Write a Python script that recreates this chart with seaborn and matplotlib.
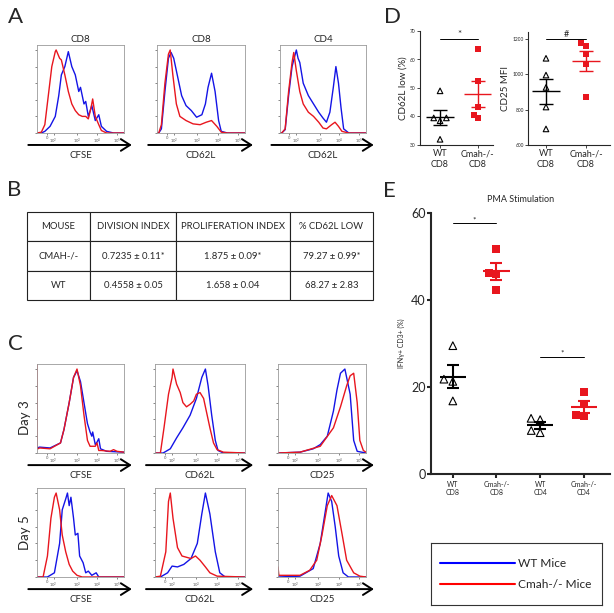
import numpy as np
import pandas as pd
import matplotlib
matplotlib.use("Agg")
import matplotlib.pyplot as plt
from matplotlib.lines import Line2D
import seaborn as sns

W, H = 614, 613
BLUE = "#1414e6"
RED = "#e8161e"

# flow axis ticks (fraction of axis width)
flow_ticks = [0.11, 0.19, 0.46, 0.69, 0.92]
flow_tick_labels = ["0", "$10^2$", "$10^3$", "$10^4$", "$10^5$"]

# ---- panel A histograms (x = fraction of axis, y = fraction of mode)
a1_wt_x = [0.0, 0.05, 0.09, 0.15, 0.21, 0.25, 0.28, 0.32, 0.36, 0.40, 0.42, 0.44, 0.48, 0.50, 0.54, 0.56, 0.59, 0.63, 0.67, 0.71, 0.74, 0.80, 0.88, 1.0]
a1_wt_y = [0.0, 0.0, 0.02, 0.08, 0.20, 0.45, 0.70, 0.80, 0.98, 0.80, 0.75, 0.70, 0.50, 0.55, 0.35, 0.38, 0.20, 0.33, 0.15, 0.22, 0.08, 0.02, 0.0, 0.0]
a1_ko_x = [0.0, 0.05, 0.09, 0.13, 0.17, 0.21, 0.22, 0.26, 0.28, 0.32, 0.36, 0.40, 0.44, 0.48, 0.52, 0.56, 0.59, 0.62, 0.64, 0.67, 0.71, 0.74, 0.80, 1.0]
a1_ko_y = [0.0, 0.01, 0.10, 0.45, 0.80, 0.98, 1.0, 0.90, 0.88, 0.70, 0.50, 0.35, 0.27, 0.22, 0.20, 0.20, 0.17, 0.30, 0.41, 0.20, 0.10, 0.03, 0.0, 0.0]

a2_wt_x = [0.0, 0.02, 0.05, 0.09, 0.13, 0.16, 0.19, 0.23, 0.28, 0.33, 0.39, 0.45, 0.51, 0.55, 0.58, 0.62, 0.66, 0.70, 0.73, 0.80, 1.0]
a2_wt_y = [0.0, 0.0, 0.05, 0.50, 0.90, 0.97, 0.90, 0.70, 0.45, 0.33, 0.27, 0.19, 0.22, 0.35, 0.55, 0.72, 0.50, 0.15, 0.02, 0.0, 0.0]
a2_ko_x = [0.0, 0.02, 0.05, 0.09, 0.13, 0.15, 0.18, 0.22, 0.26, 0.33, 0.41, 0.49, 0.56, 0.62, 0.68, 0.73, 0.80, 1.0]
a2_ko_y = [0.0, 0.0, 0.10, 0.60, 0.95, 1.0, 0.70, 0.35, 0.20, 0.15, 0.11, 0.10, 0.13, 0.15, 0.08, 0.01, 0.0, 0.0]

a3_wt_x = [0.0, 0.02, 0.06, 0.10, 0.14, 0.19, 0.21, 0.23, 0.27, 0.33, 0.39, 0.45, 0.50, 0.54, 0.58, 0.62, 0.65, 0.68, 0.71, 0.74, 0.80, 1.0]
a3_wt_y = [0.0, 0.0, 0.04, 0.45, 0.80, 1.0, 0.90, 0.85, 0.60, 0.45, 0.35, 0.25, 0.18, 0.13, 0.25, 0.55, 0.80, 0.60, 0.30, 0.05, 0.0, 0.0]
a3_ko_x = [0.0, 0.02, 0.06, 0.10, 0.14, 0.16, 0.19, 0.23, 0.27, 0.33, 0.39, 0.45, 0.50, 0.54, 0.60, 0.64, 0.68, 0.72, 0.80, 1.0]
a3_ko_y = [0.0, 0.0, 0.05, 0.50, 0.85, 0.97, 0.75, 0.50, 0.35, 0.25, 0.20, 0.13, 0.06, 0.05, 0.10, 0.13, 0.08, 0.02, 0.0, 0.0]

# ---- panel C histograms
c1_wt_x = [0.0, 0.03, 0.15, 0.27, 0.31, 0.37, 0.42, 0.46, 0.50, 0.54, 0.58, 0.61, 0.63, 0.64, 0.67, 0.69, 0.71, 0.73, 0.80, 1.0]
c1_wt_y = [0.06, 0.07, 0.06, 0.12, 0.28, 0.60, 0.90, 0.98, 0.85, 0.60, 0.35, 0.25, 0.20, 0.25, 0.10, 0.13, 0.17, 0.05, 0.02, 0.01]
c1_ko_x = [0.0, 0.0, 0.01, 0.03, 0.15, 0.27, 0.31, 0.37, 0.42, 0.46, 0.50, 0.54, 0.58, 0.61, 0.67, 0.69, 0.71, 0.74, 0.84, 0.88, 0.92, 1.0]
c1_ko_y = [1.06, 0.06, 0.05, 0.06, 0.05, 0.12, 0.28, 0.60, 0.90, 1.0, 0.80, 0.45, 0.15, 0.08, 0.08, 0.12, 0.03, 0.03, 0.02, 0.04, 0.02, 0.01]

c2_wt_x = [0.0, 0.09, 0.17, 0.24, 0.31, 0.39, 0.46, 0.52, 0.56, 0.59, 0.63, 0.67, 0.70, 0.76, 1.0]
c2_wt_y = [0.0, 0.0, 0.05, 0.18, 0.30, 0.45, 0.65, 0.90, 1.0, 0.80, 0.45, 0.15, 0.03, 0.0, 0.0]
c2_ko_x = [0.0, 0.06, 0.10, 0.15, 0.19, 0.20, 0.24, 0.28, 0.31, 0.35, 0.39, 0.43, 0.46, 0.50, 0.54, 0.57, 0.61, 0.65, 0.69, 0.76, 1.0]
c2_ko_y = [0.0, 0.0, 0.30, 0.70, 0.90, 1.0, 0.82, 0.72, 0.60, 0.55, 0.58, 0.62, 0.70, 0.72, 0.65, 0.50, 0.30, 0.12, 0.04, 0.01, 0.0]

c3_wt_x = [0.0, 0.25, 0.40, 0.48, 0.56, 0.63, 0.67, 0.71, 0.76, 0.82, 0.86, 0.90, 1.0]
c3_wt_y = [0.0, 0.01, 0.05, 0.10, 0.20, 0.50, 0.75, 0.95, 1.0, 0.70, 0.15, 0.02, 0.0]
c3_ko_x = [0.0, 0.25, 0.48, 0.63, 0.71, 0.78, 0.82, 0.86, 0.90, 0.93, 0.97, 1.0]
c3_ko_y = [0.0, 0.01, 0.08, 0.30, 0.55, 0.80, 0.92, 0.95, 0.60, 0.15, 0.03, 0.01]

c4_wt_x = [0.0, 0.12, 0.20, 0.26, 0.29, 0.33, 0.35, 0.37, 0.39, 0.42, 0.44, 0.47, 0.49, 0.53, 0.56, 0.59, 0.63, 0.68, 0.71, 1.0]
c4_wt_y = [0.0, 0.0, 0.05, 0.40, 0.80, 0.93, 1.0, 0.85, 0.95, 0.70, 0.50, 0.52, 0.25, 0.17, 0.05, 0.07, 0.02, 0.05, 0.0, 0.0]
c4_ko_x = [0.0, 0.07, 0.12, 0.16, 0.20, 0.22, 0.26, 0.29, 0.33, 0.37, 0.41, 0.46, 0.52, 1.0]
c4_ko_y = [0.0, 0.0, 0.25, 0.70, 0.95, 1.0, 0.80, 0.50, 0.30, 0.15, 0.07, 0.02, 0.0, 0.0]

c5_wt_x = [0.0, 0.06, 0.14, 0.19, 0.25, 0.32, 0.40, 0.47, 0.52, 0.56, 0.61, 0.67, 0.72, 0.78, 1.0]
c5_wt_y = [0.0, 0.0, 0.05, 0.13, 0.12, 0.15, 0.22, 0.40, 0.75, 1.0, 0.75, 0.30, 0.05, 0.0, 0.0]
c5_ko_x = [0.0, 0.06, 0.12, 0.15, 0.17, 0.20, 0.25, 0.30, 0.40, 0.45, 0.50, 0.56, 0.61, 0.69, 1.0]
c5_ko_y = [0.0, 0.01, 0.30, 0.90, 1.0, 0.70, 0.35, 0.25, 0.22, 0.25, 0.20, 0.12, 0.05, 0.01, 0.0]

c6_wt_x = [0.0, 0.25, 0.40, 0.48, 0.54, 0.57, 0.61, 0.65, 0.69, 0.74, 0.80, 1.0]
c6_wt_y = [0.0, 0.01, 0.10, 0.40, 0.80, 1.0, 0.90, 0.60, 0.25, 0.05, 0.0, 0.0]
c6_ko_x = [0.0, 0.01, 0.25, 0.36, 0.44, 0.50, 0.56, 0.61, 0.67, 0.73, 0.78, 0.86, 0.93, 1.0]
c6_ko_y = [0.12, 0.02, 0.02, 0.08, 0.20, 0.50, 0.85, 0.97, 0.85, 0.50, 0.20, 0.05, 0.01, 0.0]

# ---- panel B table
table_header = ["MOUSE", "DIVISION INDEX", "PROLIFERATION INDEX", "% CD62L LOW"]
table_ko = ["CMAH-/-", "0.7235 ± 0.11*", "1.875 ± 0.09*", "79.27 ± 0.99*"]
table_wt = ["WT", "0.4558 ± 0.05", "1.658 ± 0.04", "68.27 ± 2.83"]

# ---- panel D
d_groups = ["WT\nCD8", "Cmah-/-\nCD8"]
d_cd62l_wt = [49.0, 39.5, 38.5, 39.5, 32.0]
d_cd62l_ko = [63.8, 52.5, 43.4, 40.7, 39.3]
d_cd25_wt = [1091, 996, 926, 815, 691]
d_cd25_ko = [1177, 1158, 1114, 1057, 872]

# ---- panel E
e_groups = ["WT\nCD8", "Cmah-/-\nCD8", "WT\nCD4", "Cmah-/-\nCD4"]
e_wt_cd8 = [29.5, 21.8, 21.3, 16.8]
e_ko_cd8 = [51.8, 46.3, 46.0, 42.3]
e_wt_cd4 = [12.8, 12.5, 10.0, 9.5]
e_ko_cd4 = [18.8, 16.0, 13.5, 13.3]

sns.set_style("ticks")
plt.rcParams["font.family"] = ["Lato", "DejaVu Sans"]
plt.rcParams["mathtext.default"] = "regular"

fig = plt.figure(figsize=(W / 100, H / 100), dpi=100)


def px_axes(l, t, r, b):
    return fig.add_axes([l / W, 1 - b / H, (r - l) / W, (b - t) / H])


def flow_panel(ax, wt_x, wt_y, ko_x, ko_y, xlabel, title=None):
    sns.lineplot(x=wt_x, y=wt_y, color=BLUE, lw=1.0, sort=False, estimator=None, ax=ax)
    sns.lineplot(x=ko_x, y=ko_y, color=RED, lw=1.0, sort=False, estimator=None, ax=ax)
    ax.set_xlim(0, 1)
    ax.set_ylim(0, 1.06)
    for s in ax.spines.values():
        s.set_visible(True)
        s.set_color("#9a9a9a")
        s.set_linewidth(0.6)
    ax.set_xticks(flow_ticks, flow_tick_labels, fontsize=3)
    ax.set_yticks(np.arange(0, 1.01, 0.2), [])
    ax.tick_params(axis="both", length=1.5, width=0.5, pad=1, colors="#555555")
    ax.set_xlabel("")
    ax.set_ylabel("")
    ax.annotate("", xy=(1.09, -0.136), xytext=(-0.10, -0.136), xycoords="axes fraction",
                arrowprops=dict(arrowstyle="->,head_length=0.55,head_width=0.35", lw=1.4,
                                color="black", mutation_scale=12, shrinkA=0, shrinkB=0),
                annotation_clip=False)
    ax.text(0.5, -0.25, xlabel, transform=ax.transAxes, ha="center", va="center", fontsize=7)
    if title:
        ax.set_title(title, fontsize=7, pad=2)


def dot_panel(ax, groups, series, kinds, msize, half, capsize, lw):
    df = pd.DataFrame([(groups[i], v, kinds[i]) for i, vals in enumerate(series) for v in vals],
                      columns=["group", "value", "kind"])
    n0 = len(ax.collections)
    sns.swarmplot(data=df[df.kind == "wt"], x="group", y="value", order=groups, marker="^",
                  color="white", edgecolor="black", linewidth=0.8, size=msize, ax=ax)
    for c in ax.collections[n0:]:
        c.set_facecolor("none")
        c.set_edgecolor("black")
    sns.swarmplot(data=df[df.kind == "ko"], x="group", y="value", order=groups, marker="s",
                  color=RED, linewidth=0, size=msize, ax=ax)
    for i, vals in enumerate(series):
        col = "black" if kinds[i] == "wt" else RED
        m = np.mean(vals)
        sem = np.std(vals, ddof=1) / np.sqrt(len(vals))
        ax.hlines(m, i - half, i + half, color=col, lw=lw, zorder=4)
        ax.errorbar(i, m, yerr=sem, fmt="none", ecolor=col, elinewidth=lw, capsize=capsize,
                    capthick=lw, zorder=4)
    ax.set_xlabel("")
    sns.despine(ax=ax)


def sig(ax, x0, x1, y, text, fs):
    ax.plot([x0, x1], [y, y], color="black", lw=0.7)
    ax.text((x0 + x1) / 2, y, text, ha="center", va="bottom", fontsize=fs)


# ---------------- A
ax = px_axes(37, 45, 124, 133)
flow_panel(ax, a1_wt_x, a1_wt_y, a1_ko_x, a1_ko_y, "CFSE", "CD8")
ax = px_axes(157, 45, 245, 133)
flow_panel(ax, a2_wt_x, a2_wt_y, a2_ko_x, a2_ko_y, "CD62L", "CD8")
ax = px_axes(280, 45, 366, 133)
flow_panel(ax, a3_wt_x, a3_wt_y, a3_ko_x, a3_ko_y, "CD62L", "CD4")

# ---------------- C
c_cols = [(37, 124), (155, 245), (278, 366)]
c_rows = [(364, 453), (488, 577)]
c_data = [
    [(c1_wt_x, c1_wt_y, c1_ko_x, c1_ko_y, "CFSE"), (c2_wt_x, c2_wt_y, c2_ko_x, c2_ko_y, "CD62L"),
     (c3_wt_x, c3_wt_y, c3_ko_x, c3_ko_y, "CD25")],
    [(c4_wt_x, c4_wt_y, c4_ko_x, c4_ko_y, "CFSE"), (c5_wt_x, c5_wt_y, c5_ko_x, c5_ko_y, "CD62L"),
     (c6_wt_x, c6_wt_y, c6_ko_x, c6_ko_y, "CD25")],
]
for r, (t, b) in enumerate(c_rows):
    for c, (l, rr) in enumerate(c_cols):
        ax = px_axes(l, t, rr, b)
        flow_panel(ax, *c_data[r][c])
fig.text(25 / W, 1 - 418 / H, "Day 3", rotation=90, fontsize=9.5, ha="center", va="center")
fig.text(25 / W, 1 - 533 / H, "Day 5", rotation=90, fontsize=9.5, ha="center", va="center")

# ---------------- B table
ax = px_axes(27, 212, 373, 300)
ax.axis("off")
tab = ax.table(cellText=[table_header, table_ko, table_wt], cellLoc="center",
               colWidths=[63, 86, 114, 83], bbox=[0, 0, 1, 1])
tab.auto_set_font_size(False)
for cell in tab.get_celld().values():
    cell.set_fontsize(6.8)
    cell.set_linewidth(0.8)
    cell.set_edgecolor("#222222")

# ---------------- D
ax = px_axes(420, 31, 493, 145)
dot_panel(ax, d_groups, [d_cd62l_wt, d_cd62l_ko], ["wt", "ko"], 4, 0.36, 5, 1.0)
sig(ax, 0, 1, 67.3, "*", 7)
ax.set_xlim(-0.53, 1.4)
ax.set_ylim(30, 70)
ax.set_yticks([30, 40, 50, 60, 70])
ax.set_ylabel("CD62L low (%)", fontsize=7, labelpad=2)
ax.tick_params(axis="y", labelsize=3.5, length=2, width=0.6, pad=1)
ax.tick_params(axis="x", labelsize=6.5, length=2, width=0.6, pad=1)

ax = px_axes(528, 32, 610, 145)
dot_panel(ax, d_groups, [d_cd25_wt, d_cd25_ko], ["wt", "ko"], 4, 0.36, 5, 1.0)
sig(ax, 0, 1, 1202, "#", 6.5)
ax.set_xlim(-0.45, 1.6)
ax.set_ylim(600, 1240)
ax.set_yticks([600, 800, 1000, 1200])
ax.set_ylabel("CD25 MFI", fontsize=7, labelpad=2)
ax.tick_params(axis="y", labelsize=3.5, length=2, width=0.6, pad=1)
ax.tick_params(axis="x", labelsize=6.5, length=2, width=0.6, pad=1)

# ---------------- E
ax = px_axes(431, 213, 610, 474)
dot_panel(ax, e_groups, [e_wt_cd8, e_ko_cd8, e_wt_cd4, e_ko_cd4], ["wt", "ko", "wt", "ko"],
          5.5, 0.3, 4.3, 1.5)
sig(ax, 0, 1, 57.7, "*", 6)
sig(ax, 2, 3, 26.9, "*", 6)
ax.set_xlim(-0.5, 3.6)
ax.set_ylim(0, 60)
ax.set_yticks([0, 20, 40, 60])
for s in ax.spines.values():
    s.set_linewidth(1.5)
ax.set_title("PMA Stimulation", fontsize=6.5, pad=8)
ax.set_ylabel("IFNγ+ CD3+ (%)", fontsize=5, labelpad=4)
ax.tick_params(axis="y", labelsize=9, length=3, width=1.5, pad=1)
ax.tick_params(axis="x", labelsize=5, length=3, width=1.5, pad=2)

# legend box
ax = px_axes(431, 543, 602, 605)
ax.set_xticks([])
ax.set_yticks([])
for s in ax.spines.values():
    s.set_visible(True)
    s.set_linewidth(0.8)
    s.set_color("#333333")
handles = [Line2D([], [], color="#0000ff", lw=1.5), Line2D([], [], color="#ff0000", lw=1.5)]
ax.legend(handles, ["WT Mice", "Cmah-/- Mice"], loc="center left", bbox_to_anchor=(9 / 171, 0.5),
          frameon=False, fontsize=8.6, handlelength=6.3, handletextpad=0.25, labelspacing=0.8,
          borderpad=0, borderaxespad=0)

# panel letters
for letter, x, y in [("A", 15, 17), ("B", 14, 190), ("C", 15, 344), ("D", 393, 17), ("E", 389, 191)]:
    fig.text(x / W, 1 - y / H, letter, fontsize=16, ha="center", va="center")

fig.savefig("out.png", dpi=100)
